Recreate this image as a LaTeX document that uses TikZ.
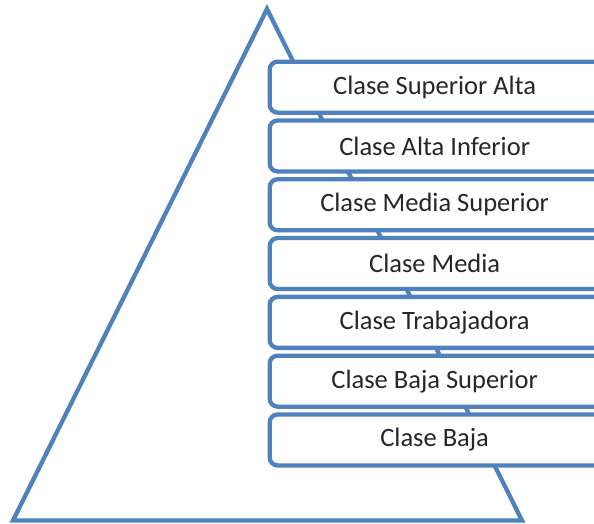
\documentclass[tikz,border=0pt]{standalone}
\usepackage{fontspec}
\setmainfont{Carlito}
\definecolor{officeblue}{HTML}{4F81BD}
\begin{document}
\begin{tikzpicture}[x=1pt,y=-1pt,
  tri/.style={draw=officeblue,line width=4.3pt,line join=miter},
  classbox/.style={draw=officeblue,fill=white,line width=4.3pt,rounded corners=8pt,
    minimum width=340pt,minimum height=51pt,inner sep=0pt,anchor=north west,
    font=\fontsize{26.5}{30}\selectfont,text=black!85}]
\useasboundingbox (0,0) rectangle (594,523);
\clip (0,0) rectangle (594,523);
\coordinate (apex) at (267,9);
\coordinate (bl) at (13,520.5);
\coordinate (br) at (522,520.5);
\draw[tri] (apex) -- (br) -- (bl) -- cycle;
\foreach \i/\t in {0/Clase Superior Alta,1/Clase Alta Inferior,2/Clase Media Superior,3/Clase Media,4/Clase Trabajadora,5/Clase Baja Superior,6/Clase Baja}{
  \node[classbox] (b\i) at (267.5,{59.5+\i*58.8}) {\t\hspace*{10pt}};
}
\end{tikzpicture}
\end{document}
